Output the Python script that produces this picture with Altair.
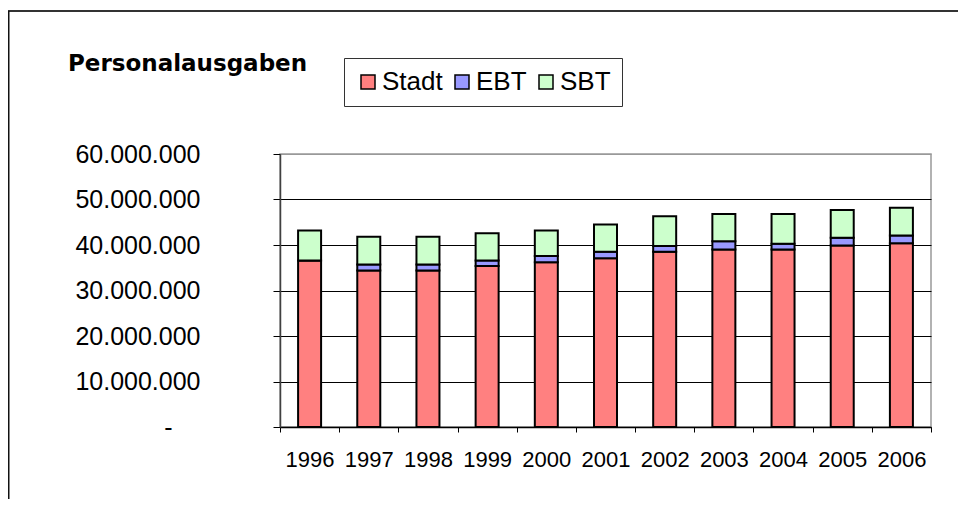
import altair as alt
import pandas as pd

years = ["1996", "1997", "1998", "1999", "2000", "2001", "2002", "2003", "2004", "2005", "2006"]
stadt = [36_600_000, 34_400_000, 34_400_000, 35_400_000, 36_200_000, 37_100_000,
         38_500_000, 39_000_000, 39_000_000, 39_900_000, 40_400_000]
ebt = [0, 1_300_000, 1_300_000, 1_200_000, 1_400_000, 1_400_000,
       1_300_000, 1_800_000, 1_300_000, 1_700_000, 1_700_000]
sbt = [6_600_000, 6_100_000, 6_100_000, 6_000_000, 5_600_000, 6_000_000,
       6_500_000, 6_000_000, 6_500_000, 6_100_000, 6_100_000]
series = ["Stadt", "EBT", "SBT"]
colors = ["#FF8080", "#9999FF", "#CCFFCC"]
y_ticks = [0, 10_000_000, 20_000_000, 30_000_000, 40_000_000, 50_000_000, 60_000_000]
chart_title = "Personalausgaben"

rows = []
for i, yr in enumerate(years):
    for k, (name, vals) in enumerate(zip(series, [stadt, ebt, sbt])):
        rows.append({"Jahr": yr, "Reihe": name, "Wert": vals[i], "k": k})
df = pd.DataFrame(rows)

W, H = 651, 273
PL, PT, PR, PB = 272, 146, 27, 72

label_expr = ("datum.value == 0 ? '-' : "
              "replace(replace(format(datum.value, ','), ',', '.'), ',', '.')")

bars = alt.Chart(df).mark_bar(size=23, stroke="black", strokeWidth=2).encode(
    x=alt.X("Jahr:N", sort=years,
            scale=alt.Scale(paddingInner=0, paddingOuter=0),
            axis=alt.Axis(title=None, labelAngle=0, tickBand="extent",
                          labelFont="Liberation Sans", labelFontSize=22,
                          labelColor="black", labelPadding=17, tickSize=5,
                          tickColor="black", domainColor="black", domainWidth=1.5,
                          grid=False)),
    y=alt.Y("Wert:Q", stack="zero",
            scale=alt.Scale(domain=[0, 60_000_000], nice=False),
            axis=alt.Axis(title=None, values=y_ticks, labelExpr=label_expr,
                          labelFont="Liberation Sans", labelFontSize=25,
                          labelColor="black",
                          labelPadding={"condition": {"test": "datum.value == 0", "value": 101},
                                        "value": 73},
                          tickSize=7,
                          tickColor="black", domainColor="#404040", domainWidth=1.5,
                          grid=True,
                          gridColor={"condition": {"test": "datum.value == 60000000", "value": "#999999"},
                                     "value": "black"},
                          gridWidth=1)),
    color=alt.Color("Reihe:N", sort=series,
                    scale=alt.Scale(domain=series, range=colors),
                    legend=alt.Legend(orient="none", legendX=64, legendY=-96,
                                      direction="horizontal", title=None,
                                      fillColor="white", strokeColor="#333333",
                                      padding=11, symbolType="square", symbolSize=196,
                                      symbolStrokeColor="black", symbolStrokeWidth=1.5,
                                      symbolOpacity=1,
                                      labelFont="Liberation Sans", labelFontSize=26,
                                      labelColor="black", labelOffset=1,
                                      columnPadding=6)),
    order=alt.Order("k:Q", sort="ascending"),
)

one = pd.DataFrame({"t": [chart_title]})

frame_top = alt.Chart(one).mark_rule(color="#333333", strokeWidth=2).encode(
    x=alt.value(-272), x2=alt.value(W + PR), y=alt.value(-143))
frame_left = alt.Chart(one).mark_rule(color="#111111", strokeWidth=2).encode(
    x=alt.value(-271.5), y=alt.value(-143), y2=alt.value(H + PB))

title = alt.Chart(one).mark_text(font="DejaVu Sans", fontWeight="bold", fontSize=23,
                                 align="left", baseline="alphabetic", color="black").encode(
    x=alt.value(-212), y=alt.value(-83.3), text="t:N")

chart = alt.layer(frame_top, frame_left, bars, title).properties(
    width=W, height=H,
    autosize=alt.AutoSizeParams(type="none"),
    padding={"left": PL, "top": PT, "right": PR, "bottom": PB},
).configure_view(stroke="#999999", strokeWidth=1.5)

chart.save("out.html", embed_options={"renderer": "svg", "actions": False})
